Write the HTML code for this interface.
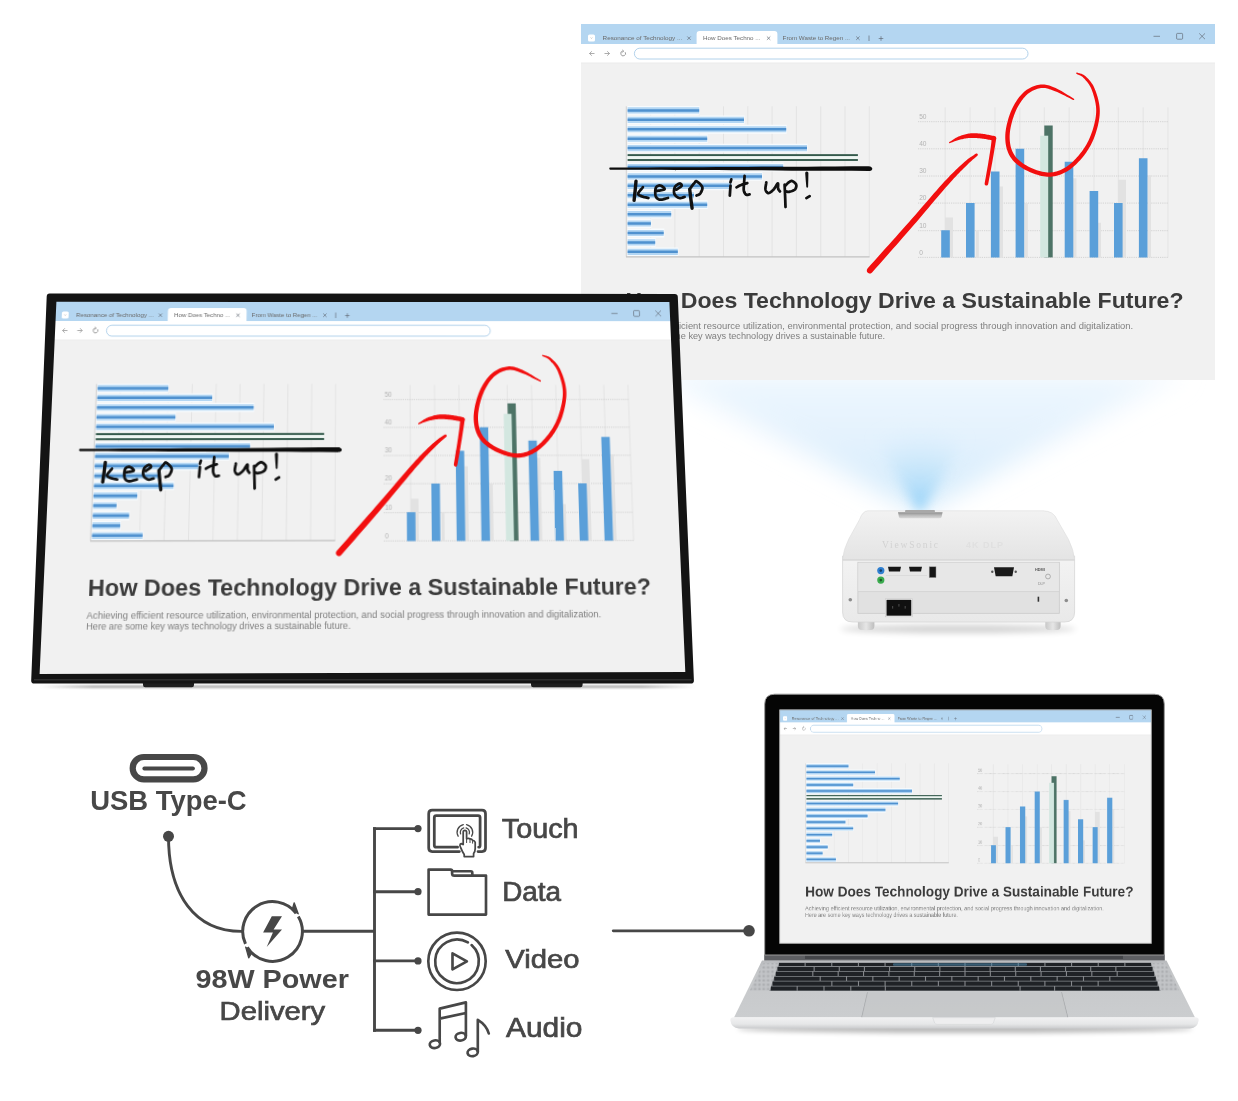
<!DOCTYPE html>
<html><head><meta charset="utf-8"><title>USB-C</title>
<style>
html,body{margin:0;padding:0;background:#fff}
body{width:1238px;height:1101px;position:relative;overflow:hidden;font-family:"Liberation Sans",sans-serif}
.abs{position:absolute;left:0;top:0}
.pg{position:absolute;left:0;top:0;width:634px;height:356px;transform-origin:0 0;overflow:hidden;will-change:transform}
.abs{will-change:transform}
.pg svg{display:block}
</style></head><body>
<svg width="0" height="0" style="position:absolute"><defs>
<g id="pg"><rect width="634" height="372" fill="#f1f1f1"/><rect width="634" height="20" fill="#b4d6f1"/><path d="M115.6,20V10Q115.6,7 118.6,7H193.4Q196.4,7 196.4,10V20Z" fill="#fff"/><rect y="20" width="634" height="19" fill="#fff"/><rect x="7" y="10.5" width="7" height="7" rx="1.6" fill="#fff"/><path d="M9.6,13.6L10.5,14.4L11.4,13.6" stroke="#999" stroke-width=".5" fill="none"/><g font-family="Liberation Sans" font-size="5.6" fill="#6a6a6a"><text x="21.6" y="16.2" textLength="79.6" lengthAdjust="spacingAndGlyphs">Resonance of Technology ...</text><text x="122" y="16.2" textLength="57.5" lengthAdjust="spacingAndGlyphs">How Does Techno ...</text><text x="201.6" y="16.2" textLength="67.5" lengthAdjust="spacingAndGlyphs">From Waste to Regen ...</text></g><path d="M106.3,12.5L109.7,15.899999999999999M109.7,12.5L106.3,15.899999999999999M185.9,12.5L189.29999999999998,15.899999999999999M189.29999999999998,12.5L185.9,15.899999999999999M275.2,12.5L278.59999999999997,15.899999999999999M278.59999999999997,12.5L275.2,15.899999999999999M288,11.5V17M300,12.2V16.8M297.7,14.5H302.3M572.5,12.3H579M618.2,9.4L624,15.2M624,9.4L618.2,15.2" stroke="#5d6570" stroke-width=".65" fill="none"/><rect x="595.6" y="9.4" width="6" height="5.8" rx=".8" stroke="#5d6570" stroke-width=".65" fill="none"/><path d="M13.5,29.5H8.6M10.8,27.3L8.5,29.5L10.8,31.7M23.5,29.5H28.4M26.2,27.3L28.5,29.5L26.2,31.7" stroke="#8a8a8a" stroke-width=".7" fill="none"/><path d="M44.2,28.2A2.4,2.4 0 1 1 41.8,27.1" stroke="#777" stroke-width=".7" fill="none"/><path d="M41.2,25.9L42.9,27.1L41.3,28.4" stroke="#777" stroke-width=".6" fill="none"/><rect x="53.4" y="24.2" width="393.6" height="10.8" rx="5.4" fill="#fff" stroke="#9fc7e6" stroke-width=".8"/><rect y="38.6" width="634" height=".6" fill="#e6e6e6"/><path d="M69.6,82.3V232.7M93.9,82.3V232.7M118.2,82.3V232.7M142.5,82.3V232.7M166.8,82.3V232.7M191.1,82.3V232.7M215.4,82.3V232.7M239.7,82.3V232.7M264,82.3V232.7M288.3,82.3V232.7" stroke="#dadada" stroke-width=".6"/><path d="M46.6,82h72.2v8.8h-72.2zM46.6,91.43h117v8.8h-117zM46.6,100.86h159.2v8.8h-159.2zM46.6,110.29h80.2v8.8h-80.2zM46.6,119.72h180v8.8h-180zM46.6,138.58h156.2v8.8h-156.2zM46.6,148.01h135v8.8h-135zM46.6,157.44h104.5v8.8h-104.5zM46.6,166.87h67v8.8h-67zM46.6,176.3h80.2v8.8h-80.2zM46.6,185.73h44.2v8.8h-44.2zM46.6,195.16h23.9v8.8h-23.9zM46.6,204.59h36.7v8.8h-36.7zM46.6,214.02h28.2v8.8h-28.2zM46.6,223.45h50.8v8.8h-50.8z" fill="#f7fbfe"/><path d="M46.6,83.35h71.6v6.1h-71.6zM46.6,92.78h116.4v6.1h-116.4zM46.6,102.21h158.6v6.1h-158.6zM46.6,111.64h79.6v6.1h-79.6zM46.6,121.07h179.4v6.1h-179.4zM46.6,139.93h155.6v6.1h-155.6zM46.6,149.36h134.4v6.1h-134.4zM46.6,158.79h103.9v6.1h-103.9zM46.6,168.22h66.4v6.1h-66.4zM46.6,177.65h79.6v6.1h-79.6zM46.6,187.08h43.6v6.1h-43.6zM46.6,196.51h23.3v6.1h-23.3zM46.6,205.94h36.1v6.1h-36.1zM46.6,215.37h27.6v6.1h-27.6zM46.6,224.8h50.2v6.1h-50.2z" fill="#b3d6f3"/><path d="M46.6,85.15h71.6v2.5h-71.6zM46.6,94.58h116.4v2.5h-116.4zM46.6,104.01h158.6v2.5h-158.6zM46.6,113.44h79.6v2.5h-79.6zM46.6,122.87h179.4v2.5h-179.4zM46.6,141.73h155.6v2.5h-155.6zM46.6,151.16h134.4v2.5h-134.4zM46.6,160.59h103.9v2.5h-103.9zM46.6,170.02h66.4v2.5h-66.4zM46.6,179.45h79.6v2.5h-79.6zM46.6,188.88h43.6v2.5h-43.6zM46.6,198.31h23.3v2.5h-23.3zM46.6,207.74h36.1v2.5h-36.1zM46.6,217.17h27.6v2.5h-27.6zM46.6,226.6h50.2v2.5h-50.2z" fill="#4f91cf"/><rect x="46.6" y="130.55" width="230.3" height="6" fill="#eef6f2"/><rect x="46.6" y="130.15" width="230.3" height="1.9" fill="#34594b"/><rect x="46.6" y="135.05" width="230.3" height="1.9" fill="#34594b"/><path d="M45.3,82.3V232.7" stroke="#cfcfcf" stroke-width=".9"/><path d="M45,232.8H288.6" stroke="#c2c2c2" stroke-width="1.3"/><path d="M364.2,83.4V233.4M389.1,83.4V233.4M414,83.4V233.4M438.9,83.4V233.4M463.3,83.4V233.4M488.2,83.4V233.4M513,83.4V233.4M537.3,83.4V233.4M562.2,83.4V233.4M587,83.4V233.4" stroke="#dcdcdc" stroke-width=".6"/><path d="M337,97.7H587M337,124.8H587M337,152H587M337,179.1H587M337,206.7H587M337,233.4H587" stroke="#cbcbcb" stroke-width=".8" stroke-dasharray="1.2 1"/><g font-family="Liberation Sans" font-size="6.6" fill="#b3b3b3"><text x="338.2" y="94.8">50</text><text x="338.2" y="121.9">40</text><text x="338.2" y="149.1">30</text><text x="338.2" y="176.2">20</text><text x="338.2" y="204.0">10</text><text x="338.2" y="231.2">0</text></g><path d="M364,193.6h8V233.4h-8zM394.8,206.7h3V233.4h-3zM418.5,162.6h3.5V233.4h-3.5zM443.4,179.1h3.4V233.4h-3.4zM492,154.2h3.4V233.4h-3.4zM517,198.8h3V233.4h-3zM537,155.8h8V233.4h-8zM566.7,151.3h3.3V233.4h-3.3z" fill="#e2e2e2"/><path d="M360.2,206.3h8.6V233.4h-8.6zM385,179.1h8.6V233.4h-8.6zM409.9,147.5h8.6V233.4h-8.6zM434.6,124.8h8.6V233.4h-8.6zM483.7,137.7h8.6V233.4h-8.6zM508.6,167.1h8.6V233.4h-8.6zM533,179.1h8.6V233.4h-8.6zM557.9,134.3h8.6V233.4h-8.6z" fill="#5a9fd9"/><rect x="463.3" y="101.5" width="8.4" height="131.9" fill="#4d7366"/><rect x="459.2" y="111.7" width="8" height="121.7" fill="#d3e7e0"/><text x="44.6" y="283.9" font-family="Liberation Sans" font-weight="bold" font-size="21.9" fill="#3b3b3b" textLength="558" lengthAdjust="spacingAndGlyphs">How Does Technology Drive a Sustainable Future?</text><g font-family="Liberation Sans" font-size="8.2" fill="#7e7e7e"><text x="44.2" y="305.4" textLength="508" lengthAdjust="spacingAndGlyphs">Achieving efficient resource utilization, environmental protection, and social progress through innovation and digitalization.</text><text x="44.2" y="315.1" textLength="260" lengthAdjust="spacingAndGlyphs">Here are some key ways technology drives a sustainable future.</text></g></g>
<g id="ann"><path d="M29.2,143.5C100,143.2 200,142.6 287.5,142.3C290.8,142.3 291.6,144.6 291.2,145.2C290.8,146.8 289,147 287.5,147C200,146.6 100,146 29.2,145.7C28,145.6 28,143.6 29.2,143.5Z" fill="#0d0d0d"/><path d="M61.90,163.20L61.25,164.02L60.53,164.88L59.76,165.76L59.02,166.62L58.34,167.46L57.78,168.25L57.38,168.97L57.20,169.60L57.25,170.13L57.49,170.58L57.89,170.97L58.41,171.30L59.01,171.60L59.67,171.87L60.34,172.13L61.00,172.40L61.68,172.66L62.42,172.88L63.21,173.09L64.04,173.28L64.89,173.45L65.74,173.63L66.58,173.81L67.40,174.00M76.20,166.90L77.21,166.70L78.33,166.52L79.49,166.35L80.64,166.18L81.69,165.98L82.58,165.77L83.24,165.51L83.60,165.20L83.61,164.79L83.33,164.27L82.81,163.69L82.14,163.09L81.37,162.53L80.58,162.04L79.83,161.68L79.20,161.50L78.62,161.47L78.00,161.53L77.36,161.69L76.73,161.94L76.13,162.29L75.59,162.73L75.14,163.27L74.80,163.90L74.56,164.71L74.39,165.72L74.28,166.87L74.25,168.09L74.28,169.33L74.39,170.50L74.56,171.54L74.80,172.40L75.12,173.10L75.51,173.71L75.98,174.24L76.51,174.69L77.11,175.06L77.76,175.35L78.46,175.56L79.20,175.70L80.01,175.73L80.91,175.63L81.88,175.43L82.89,175.16L83.93,174.86L84.97,174.54L86.00,174.25L87.00,174.00M95.50,165.60L96.19,165.11L96.94,164.61L97.73,164.11L98.50,163.61L99.21,163.12L99.83,162.64L100.31,162.20L100.60,161.80L100.70,161.40L100.64,160.98L100.45,160.56L100.16,160.18L99.79,159.86L99.38,159.62L98.94,159.49L98.50,159.50L98.01,159.65L97.41,159.93L96.74,160.31L96.04,160.78L95.36,161.32L94.73,161.92L94.20,162.55L93.80,163.20L93.51,163.92L93.28,164.75L93.11,165.65L93.01,166.58L92.98,167.52L93.03,168.42L93.17,169.26L93.40,170.00L93.75,170.67L94.22,171.31L94.79,171.92L95.44,172.49L96.13,172.99L96.84,173.42L97.54,173.76L98.20,174.00L98.85,174.11L99.51,174.10L100.18,173.99L100.86,173.81L101.55,173.59L102.24,173.37L102.92,173.16L103.60,173.00M109.50,164.00L110.01,163.32L110.54,162.61L111.07,161.88L111.61,161.16L112.12,160.47L112.62,159.83L113.08,159.27L113.50,158.80L113.85,158.39L114.12,158.01L114.35,157.68L114.56,157.41L114.78,157.23L115.04,157.15L115.37,157.20L115.80,157.40L116.39,157.78L117.13,158.33L117.96,159.02L118.83,159.81L119.65,160.66L120.38,161.54L120.95,162.40L121.30,163.20L121.41,164.00L121.35,164.86L121.14,165.75L120.83,166.64L120.44,167.50L120.02,168.30L119.59,169.01L119.20,169.60L118.81,170.05L118.39,170.39L117.93,170.64L117.45,170.83L116.96,170.99L116.46,171.13L115.97,171.29L115.50,171.50M150.30,155.40L150.19,155.78L150.08,156.15L149.96,156.53L149.85,156.90L149.74,157.28L149.63,157.65L149.51,158.03L149.40,158.40M149.50,161.70L149.41,162.94L149.32,164.17L149.24,165.41L149.15,166.65L149.06,167.89L148.98,169.12L148.89,170.36L148.80,171.60M163.60,151.80L163.54,152.70L163.47,153.60L163.40,154.49L163.34,155.39L163.27,156.29L163.21,157.19L163.15,158.09L163.10,159.00L163.04,159.94L162.95,160.91L162.86,161.90L162.78,162.88L162.71,163.84L162.69,164.76L162.71,165.62L162.80,166.40L162.95,167.12L163.16,167.80L163.42,168.44L163.71,169.03L164.04,169.56L164.38,170.02L164.74,170.40L165.10,170.70L165.48,170.88L165.89,170.95L166.32,170.92L166.78,170.84L167.23,170.71L167.70,170.58L168.15,170.47L168.60,170.40M155.50,163.40L155.98,163.12L156.43,162.85L156.88,162.57L157.33,162.29L157.79,162.02L158.30,161.74L158.87,161.47L159.50,161.20L160.22,160.93L161.00,160.67L161.84,160.41L162.72,160.14L163.63,159.88L164.53,159.62L165.43,159.36L166.30,159.10M185.30,158.40L185.17,159.31L185.01,160.26L184.84,161.22L184.67,162.17L184.53,163.09L184.44,163.97L184.42,164.78L184.50,165.50L184.67,166.17L184.91,166.81L185.22,167.42L185.58,167.97L185.98,168.43L186.43,168.79L186.90,169.02L187.40,169.10L187.95,169.01L188.56,168.76L189.23,168.39L189.92,167.91L190.62,167.35L191.32,166.74L191.98,166.12L192.60,165.50L193.20,164.78L193.81,163.89L194.42,162.90L195.01,161.90L195.55,160.97L196.05,160.19L196.47,159.64L196.80,159.40L197.01,159.53L197.11,159.96L197.13,160.62L197.09,161.44L197.04,162.32L197.00,163.20L197.01,163.98L197.10,164.60L197.26,165.07L197.46,165.49L197.70,165.86L197.95,166.19L198.22,166.51L198.49,166.83L198.75,167.15L199.00,167.50M203.60,160.70L203.66,162.11L203.73,163.53L203.79,164.95L203.86,166.37L203.92,167.78L203.98,169.20L204.04,170.60L204.10,172.00L204.15,173.39L204.21,174.77L204.26,176.15L204.31,177.52L204.35,178.89L204.40,180.26L204.45,181.63L204.50,183.00M204.00,162.00L204.52,161.49L205.05,160.96L205.58,160.41L206.11,159.87L206.63,159.35L207.14,158.87L207.63,158.45L208.10,158.10L208.54,157.80L208.95,157.54L209.34,157.31L209.71,157.13L210.09,157.01L210.47,156.96L210.87,156.99L211.30,157.10L211.79,157.32L212.35,157.65L212.94,158.06L213.53,158.54L214.09,159.06L214.57,159.61L214.96,160.16L215.20,160.70L215.32,161.26L215.35,161.87L215.29,162.52L215.16,163.18L214.95,163.83L214.66,164.45L214.31,165.01L213.90,165.50L213.37,165.92L212.69,166.31L211.91,166.66L211.08,166.97L210.24,167.24L209.43,167.47L208.70,167.65L208.10,167.80L207.62,167.89L207.22,167.91L206.89,167.88L206.60,167.81L206.33,167.73L206.07,167.64L205.80,167.56L205.50,167.50M225.40,174.10L225.81,173.85L226.22,173.60L226.64,173.35L227.05,173.10L227.46,172.85L227.88,172.60L228.29,172.35L228.70,172.10" stroke="#111" stroke-width="2.75" fill="none" stroke-linecap="round" stroke-linejoin="round"/><path d="M55.00,157.10L54.90,158.20L54.81,159.29L54.71,160.37L54.62,161.46L54.52,162.55L54.42,163.67L54.31,164.82L54.20,166.00L54.08,167.23L53.95,168.49L53.81,169.79L53.67,171.11L53.53,172.43L53.38,173.76L53.24,175.09L53.10,176.40M108.70,165.20L108.84,166.36L108.97,167.52L109.10,168.67L109.24,169.82L109.37,170.98L109.51,172.15L109.65,173.32L109.80,174.50L109.95,175.69L110.11,176.90L110.27,178.11L110.44,179.32L110.60,180.54L110.77,181.77L110.94,182.98L111.10,184.20" stroke="#111" stroke-width="3.4" fill="none" stroke-linecap="round" stroke-linejoin="round"/><path d="M224.20,149.15L224.24,149.72L224.28,150.30L224.33,150.87L224.37,151.45L224.41,152.02L224.45,152.60L224.49,153.17L224.53,153.75L224.58,154.32L224.62,154.90L224.66,155.47L224.70,156.04L224.75,156.61L224.80,157.18L224.85,157.74L224.90,158.31L224.95,158.87L225.00,159.44L225.05,160.00L225.10,160.57L225.15,161.13L225.20,161.70L225.25,162.26L225.30,162.83L225.43,163.27L225.77,163.59L226.23,163.70L226.67,163.57L226.99,163.23L227.10,162.77L227.12,162.21L227.13,161.64L227.15,161.07L227.17,160.51L227.18,159.94L227.20,159.37L227.22,158.81L227.23,158.24L227.25,157.67L227.27,157.10L227.28,156.53L227.30,155.96L227.31,155.39L227.32,154.82L227.32,154.24L227.33,153.67L227.34,153.09L227.35,152.51L227.36,151.94L227.37,151.36L227.37,150.78L227.38,150.21L227.39,149.63L227.40,149.05L227.16,148.26L226.56,147.69L225.75,147.50L224.96,147.74L224.39,148.34Z" fill="#111"/><path d="M291.08,248.52L294.52,244.62L297.99,240.68L301.48,236.72L304.98,232.75L308.48,228.78L311.97,224.82L315.45,220.88L318.88,216.97L322.28,213.10L325.62,209.28L328.90,205.53L332.11,201.84L335.27,198.17L338.44,194.46L341.60,190.75L344.72,187.05L347.80,183.40L350.82,179.82L353.77,176.33L356.62,172.96L359.37,169.73L361.99,166.66L364.48,163.79L366.82,161.14L369.00,158.70L371.05,156.43L372.97,154.34L374.78,152.40L376.49,150.59L378.10,148.92L379.63,147.35L381.09,145.88L382.48,144.49L383.82,143.17L385.11,141.89L386.36,140.66L387.52,139.52L388.54,138.54L389.47,137.67L390.32,136.91L391.10,136.23L391.84,135.60L392.56,135.01L393.27,134.43L393.99,133.84L394.73,133.23L395.51,132.57L396.33,131.86L396.75,131.30L396.84,130.61L396.56,129.97L396.00,129.55L395.31,129.46L394.67,129.74L393.80,130.35L392.99,130.89L392.21,131.40L391.44,131.89L390.65,132.39L389.84,132.91L388.99,133.49L388.09,134.13L387.11,134.85L386.06,135.69L384.90,136.64L383.64,137.74L382.32,138.93L380.96,140.16L379.56,141.44L378.10,142.79L376.57,144.23L374.96,145.77L373.27,147.42L371.48,149.20L369.58,151.11L367.58,153.19L365.45,155.43L363.18,157.86L360.77,160.50L358.22,163.36L355.53,166.40L352.73,169.61L349.82,172.95L346.83,176.41L343.76,179.95L340.64,183.56L337.48,187.21L334.29,190.88L331.09,194.53L327.89,198.16L324.67,201.80L321.36,205.52L317.99,209.31L314.57,213.14L311.10,217.02L307.60,220.93L304.08,224.86L300.55,228.81L297.01,232.75L293.49,236.68L289.99,240.60L286.52,244.48L285.81,245.89L285.91,247.46L286.78,248.78L288.19,249.49L289.76,249.39Z" fill="#f20f0f"/><path d="M368.86,119.14L369.68,118.85L370.50,118.54L371.31,118.23L372.12,117.92L372.92,117.61L373.72,117.31L374.51,117.01L375.31,116.73L376.11,116.47L376.92,116.23L377.73,116.01L378.55,115.81L379.40,115.58L380.26,115.36L381.14,115.15L382.02,114.95L382.91,114.76L383.80,114.59L384.70,114.44L385.60,114.30L386.50,114.19L387.40,114.10L388.30,114.03L389.20,113.99L390.09,113.94L391.01,113.91L391.94,113.90L392.88,113.92L393.84,113.95L394.81,114.01L395.79,114.08L396.77,114.16L397.76,114.26L398.75,114.36L399.75,114.47L400.73,114.58L401.69,114.69L402.65,114.82L403.62,114.96L404.59,115.11L405.57,115.28L406.56,115.46L407.55,115.64L408.55,115.83L409.55,116.02L410.56,116.21L411.58,116.39L412.59,116.56L413.78,116.46L414.76,115.78L415.26,114.71L415.16,113.52L414.48,112.54L413.41,112.04L412.42,111.85L411.44,111.66L410.45,111.46L409.45,111.25L408.45,111.05L407.44,110.84L406.43,110.64L405.41,110.45L404.38,110.27L403.35,110.10L402.31,109.95L401.27,109.82L400.25,109.71L399.22,109.62L398.19,109.53L397.16,109.44L396.11,109.37L395.07,109.32L394.02,109.27L392.97,109.25L391.92,109.25L390.88,109.28L389.84,109.33L388.80,109.41L387.78,109.56L386.78,109.74L385.78,109.95L384.80,110.18L383.83,110.43L382.87,110.70L381.93,110.98L381.00,111.28L380.09,111.60L379.20,111.92L378.32,112.25L377.45,112.59L376.60,112.99L375.76,113.42L374.96,113.86L374.18,114.32L373.43,114.78L372.68,115.25L371.95,115.73L371.23,116.20L370.51,116.68L369.80,117.14L369.07,117.61L368.34,118.06L368.10,118.26L368.00,118.55L368.06,118.86L368.26,119.10L368.55,119.20Z" fill="#f20f0f"/><path d="M410.82,114.29L410.72,115.15L410.62,115.98L410.52,116.80L410.42,117.60L410.33,118.41L410.23,119.22L410.13,120.05L410.03,120.90L409.92,121.78L409.80,122.70L409.67,123.67L409.52,124.69L409.36,125.76L409.20,126.86L409.02,128.00L408.84,129.16L408.65,130.36L408.46,131.59L408.26,132.86L408.05,134.15L407.83,135.48L407.60,136.84L407.37,138.24L407.13,139.67L406.88,141.15L406.61,142.69L406.33,144.28L406.04,145.91L405.75,147.58L405.45,149.27L405.14,150.97L404.84,152.69L404.53,154.41L404.23,156.12L403.92,157.81L403.63,159.48L403.71,160.41L404.24,161.17L405.08,161.57L406.01,161.49L406.77,160.96L407.17,160.12L407.48,158.46L407.80,156.77L408.12,155.07L408.44,153.35L408.77,151.64L409.09,149.93L409.41,148.24L409.72,146.58L410.02,144.95L410.32,143.35L410.60,141.81L410.87,140.33L411.13,138.89L411.38,137.49L411.62,136.13L411.86,134.80L412.09,133.50L412.30,132.23L412.52,131.00L412.72,129.80L412.92,128.63L413.11,127.49L413.30,126.39L413.48,125.31L413.65,124.28L413.82,123.30L413.97,122.38L414.12,121.49L414.26,120.63L414.39,119.80L414.52,118.99L414.65,118.19L414.78,117.39L414.91,116.58L415.04,115.76L415.18,114.91L415.04,113.78L414.36,112.87L413.31,112.42L412.18,112.56L411.27,113.24Z" fill="#f20f0f"/><path d="M492.86,74.64L491.34,73.74L489.80,72.81L488.25,71.86L486.68,70.89L485.12,69.92L483.55,68.96L482.00,68.02L480.46,67.11L478.95,66.25L477.46,65.44L476.01,64.69L474.61,64.02L473.27,63.47L471.99,62.94L470.75,62.45L469.54,61.99L468.34,61.58L467.14,61.21L465.94,60.90L464.72,60.65L463.48,60.48L462.21,60.40L460.91,60.41L459.58,60.51L458.23,60.70L456.86,60.97L455.48,61.31L454.07,61.72L452.66,62.20L451.25,62.77L449.84,63.41L448.45,64.13L447.08,64.92L445.73,65.80L444.43,66.77L443.17,67.81L441.95,68.94L440.75,70.16L439.58,71.46L438.43,72.84L437.30,74.30L436.21,75.81L435.15,77.39L434.13,79.02L433.15,80.70L432.22,82.42L431.35,84.17L430.53,85.94L429.76,87.79L429.01,89.73L428.30,91.76L427.62,93.84L426.98,95.97L426.40,98.13L425.87,100.30L425.40,102.46L425.01,104.60L424.69,106.69L424.45,108.73L424.30,110.69L424.25,112.58L424.26,114.45L424.34,116.31L424.50,118.13L424.73,119.93L425.03,121.70L425.41,123.44L425.87,125.13L426.40,126.79L427.01,128.40L427.70,129.96L428.47,131.46L429.34,132.92L430.30,134.31L431.33,135.65L432.44,136.94L433.62,138.17L434.87,139.34L436.18,140.47L437.54,141.54L438.95,142.57L440.41,143.55L441.91,144.48L443.45,145.38L445.07,146.25L446.80,147.10L448.62,147.94L450.51,148.73L452.45,149.49L454.44,150.19L456.44,150.83L458.45,151.40L460.44,151.88L462.40,152.26L464.33,152.54L466.18,152.70L467.98,152.74L469.74,152.68L471.47,152.53L473.18,152.28L474.86,151.94L476.52,151.51L478.14,151.01L479.75,150.43L481.33,149.77L482.89,149.05L484.43,148.26L485.96,147.41L487.50,146.47L489.04,145.41L490.56,144.28L492.05,143.06L493.53,141.77L494.98,140.43L496.40,139.04L497.78,137.61L499.12,136.15L500.42,134.67L501.66,133.18L502.86,131.69L504.00,130.18L505.10,128.64L506.17,127.06L507.20,125.46L508.20,123.82L509.15,122.15L510.06,120.45L510.94,118.72L511.76,116.96L512.55,115.16L513.29,113.34L513.98,111.48L514.63,109.58L515.25,107.62L515.85,105.60L516.41,103.54L516.93,101.45L517.39,99.34L517.81,97.21L518.16,95.09L518.44,92.98L518.65,90.88L518.77,88.82L518.80,86.80L518.73,84.78L518.55,82.75L518.29,80.72L517.94,78.70L517.52,76.70L517.05,74.74L516.53,72.83L515.97,70.97L515.39,69.19L514.79,67.50L514.18,65.89L513.58,64.39L512.93,62.96L512.23,61.61L511.48,60.34L510.69,59.14L509.88,58.02L509.06,56.98L508.23,56.00L507.40,55.09L506.59,54.25L505.79,53.47L505.03,52.74L504.29,52.05L503.53,51.44L502.76,50.91L502.01,50.49L501.28,50.14L500.57,49.87L499.88,49.65L499.22,49.47L498.58,49.31L497.95,49.15L497.34,48.99L496.73,48.80L496.09,48.56L495.74,48.50L495.40,48.63L495.16,48.91L495.10,49.26L495.23,49.60L495.51,49.84L496.13,50.18L496.77,50.49L497.40,50.76L498.01,51.02L498.60,51.27L499.18,51.52L499.74,51.80L500.29,52.11L500.83,52.46L501.38,52.87L501.93,53.36L502.51,53.95L503.17,54.62L503.87,55.36L504.59,56.14L505.32,56.97L506.05,57.84L506.78,58.77L507.50,59.76L508.19,60.80L508.86,61.90L509.49,63.07L510.08,64.30L510.62,65.61L511.16,67.04L511.71,68.59L512.25,70.23L512.78,71.94L513.29,73.73L513.75,75.56L514.17,77.43L514.53,79.32L514.82,81.21L515.04,83.10L515.17,84.97L515.20,86.80L515.14,88.65L514.99,90.56L514.77,92.52L514.47,94.51L514.11,96.52L513.68,98.54L513.20,100.55L512.67,102.54L512.10,104.51L511.50,106.44L510.87,108.31L510.22,110.12L509.55,111.87L508.84,113.58L508.08,115.27L507.29,116.93L506.45,118.55L505.57,120.15L504.66,121.72L503.71,123.25L502.72,124.76L501.70,126.24L500.64,127.69L499.54,129.11L498.41,130.52L497.23,131.94L496.00,133.35L494.72,134.73L493.42,136.08L492.08,137.39L490.72,138.65L489.35,139.84L487.97,140.96L486.59,142.00L485.21,142.94L483.84,143.79L482.45,144.56L481.05,145.28L479.64,145.93L478.23,146.51L476.81,147.03L475.37,147.47L473.93,147.84L472.46,148.14L470.98,148.35L469.48,148.49L467.96,148.54L466.42,148.50L464.82,148.36L463.12,148.11L461.35,147.75L459.53,147.31L457.67,146.77L455.80,146.17L453.95,145.50L452.12,144.78L450.35,144.03L448.65,143.24L447.04,142.43L445.55,141.62L444.14,140.80L442.76,139.93L441.44,139.03L440.16,138.09L438.95,137.12L437.79,136.12L436.70,135.08L435.68,134.00L434.72,132.89L433.85,131.74L433.05,130.56L432.33,129.34L431.67,128.06L431.08,126.72L430.55,125.33L430.09,123.89L429.69,122.40L429.35,120.86L429.08,119.28L428.88,117.67L428.74,116.02L428.66,114.34L428.65,112.63L428.70,110.91L428.82,109.14L429.03,107.27L429.32,105.32L429.69,103.31L430.12,101.27L430.61,99.21L431.16,97.15L431.76,95.12L432.40,93.14L433.07,91.22L433.76,89.38L434.47,87.66L435.21,85.99L436.01,84.35L436.85,82.74L437.74,81.17L438.67,79.64L439.63,78.16L440.62,76.74L441.64,75.39L442.68,74.11L443.72,72.91L444.78,71.80L445.83,70.79L446.90,69.87L448.01,69.01L449.16,68.22L450.34,67.50L451.55,66.84L452.78,66.25L454.01,65.72L455.25,65.26L456.47,64.87L457.69,64.54L458.88,64.28L460.02,64.09L461.11,63.97L462.15,63.93L463.17,63.97L464.19,64.08L465.22,64.25L466.26,64.49L467.33,64.79L468.44,65.14L469.60,65.54L470.80,65.99L472.07,66.47L473.39,66.98L474.77,67.48L476.21,68.07L477.70,68.72L479.23,69.44L480.81,70.21L482.41,71.01L484.03,71.84L485.66,72.69L487.30,73.53L488.93,74.37L490.55,75.18L492.14,75.96L492.52,76.05L492.89,75.94L493.16,75.66L493.25,75.28L493.14,74.91Z" fill="#f20f0f"/></g>
</defs></svg>

<!-- projected screen -->
<div class="pg" style="transform:matrix3d(1,0,0,0,0,1,0,0,0,0,1,0,581,24,0,1)"><svg width="634" height="356"><use href="#pg"/><use href="#ann"/></svg></div>

<svg class="abs" width="1238" height="1101" style="overflow:visible">
<defs>
<filter id="bb" x="-30%" y="-30%" width="160%" height="160%"><feGaussianBlur stdDeviation="13"/></filter>
<filter id="bb2" x="-50%" y="-50%" width="200%" height="200%"><feGaussianBlur stdDeviation="6"/></filter>
<linearGradient id="fan" x1="0" y1="1" x2="0" y2="0"><stop offset="0" stop-color="#cde8fb"/><stop offset=".45" stop-color="#e2f1fd"/><stop offset="1" stop-color="#eef7fe"/></linearGradient>
<radialGradient id="core" cx="920" cy="516" r="95" gradientUnits="userSpaceOnUse"><stop offset="0" stop-color="#86cdf8"/><stop offset=".3" stop-color="#b4def9"/><stop offset="1" stop-color="#dceffc" stop-opacity="0"/></radialGradient>
<clipPath id="abovescr"><rect x="0" y="380" width="1238" height="200"/></clipPath>
</defs>
<g clip-path="url(#abovescr)">
<path d="M920,512L650,372L1185,372Z" fill="url(#fan)" filter="url(#bb)"/>
<path d="M920,514L850,400L990,400Z" fill="url(#core)" filter="url(#bb2)"/>
</g>
</svg>
<svg class="abs" width="1238" height="1101">
<defs>
<filter id="pb" x="-20%" y="-200%" width="140%" height="500%"><feGaussianBlur stdDeviation="3"/></filter>
<linearGradient id="ptop" x1="0" y1="0" x2="0" y2="1"><stop offset="0" stop-color="#f2f2f2"/><stop offset="1" stop-color="#e4e4e4"/></linearGradient>
<linearGradient id="pfront" x1="0" y1="0" x2="0" y2="1"><stop offset="0" stop-color="#f3f3f3"/><stop offset="1" stop-color="#e9e9e9"/></linearGradient>
<linearGradient id="lens" x1="0" y1="0" x2="0" y2="1"><stop offset="0" stop-color="#8c8c8c"/><stop offset=".5" stop-color="#b9b9b9"/><stop offset="1" stop-color="#d9d9d9"/></linearGradient>
<linearGradient id="foot" x1="0" y1="0" x2="1" y2="0"><stop offset="0" stop-color="#c8c8c8"/><stop offset=".5" stop-color="#e6e6e6"/><stop offset="1" stop-color="#bdbdbd"/></linearGradient>
</defs>
<ellipse cx="958" cy="629" rx="118" ry="4" fill="#000" opacity=".18" filter="url(#pb)"/>
<rect x="857.9" y="614" width="16.5" height="16" rx="4" fill="url(#foot)"/>
<rect x="1045.3" y="614" width="15.3" height="16" rx="4" fill="url(#foot)"/>
<path d="M842.6,556H1074.6V612Q1074.6,622 1064.6,622H852.6Q842.6,622 842.6,612Z" fill="url(#pfront)" stroke="#d6d6d6" stroke-width=".8"/>
<path d="M868,510.8H1043Q1053.5,511 1057,519.5L1068.5,539.5Q1073.8,550 1074.6,560H842.6Q843.2,550 848.8,539L859.6,519.5Q862.5,511 868,510.8Z" fill="url(#ptop)" stroke="#dcdcdc" stroke-width=".6"/>
<path d="M842.6,560H1074.6" stroke="#d2d2d2" stroke-width="1"/>
<path d="M898,512.2H942.6L941.5,517.3Q941,518.3 939.5,518.3H901Q899.5,518.3 899,517.3Z" fill="url(#lens)"/>
<rect x="905" y="510" width="30" height="2.2" rx="1" fill="#a8a8a8"/>
<text x="882" y="547.5" font-family="Liberation Serif" font-size="9.5" fill="#d2d2d2" letter-spacing="1.8">ViewSonic</text>
<text x="966" y="547.5" font-family="Liberation Sans" font-size="9" font-weight="bold" fill="#e0e0e0" letter-spacing="1">4K DLP</text>
<rect x="857.9" y="562.3" width="201.4" height="51" fill="#e1e1e1" stroke="#c9c9c9" stroke-width=".8"/>
<rect x="858.3" y="562.7" width="200.6" height="28.9" fill="#e7e7e7"/>
<path d="M858,591.6H1059.3" stroke="#cfcfcf" stroke-width=".8"/>
<circle cx="880.8" cy="570.6" r="3.6" fill="#2f7fd1"/><circle cx="880.8" cy="570.6" r="1.3" fill="#15406a"/>
<circle cx="880.8" cy="580.1" r="3.6" fill="#3aab4e"/><circle cx="880.8" cy="580.1" r="1.3" fill="#1c5a27"/>
<path d="M888,566.8H901L900,571.6H889Z" fill="#161616"/>
<path d="M909,566.8H922L921,571.6H910Z" fill="#161616"/>
<rect x="929.2" y="566.8" width="6.8" height="10.8" fill="#161616" stroke="#999" stroke-width=".5"/>
<path d="M886,575.5H927" stroke="#cfcfcf" stroke-width=".5"/>
<path d="M994,567.3H1014L1012.3,576.3H995.7Z" fill="#1a1a1a"/>
<circle cx="992.3" cy="571.8" r="1.2" fill="#555"/><circle cx="1015.7" cy="571.8" r="1.2" fill="#555"/>
<text x="1035" y="570.5" font-family="Liberation Sans" font-size="3.8" font-weight="bold" fill="#555">HDMI</text>
<circle cx="1048" cy="576.5" r="2.4" fill="none" stroke="#888" stroke-width=".6"/>
<text x="1038" y="584.8" font-family="Liberation Sans" font-size="3.5" fill="#888">DLP</text>
<rect x="885.4" y="598.8" width="27" height="18" fill="#fafafa" stroke="#c5c5c5" stroke-width=".6"/>
<rect x="886.5" y="599.8" width="24.8" height="15.9" fill="#101010"/>
<rect x="892" y="606" width="1.2" height="2.6" fill="#444"/><rect x="898.3" y="604" width="1.2" height="2.6" fill="#444"/><rect x="904.6" y="606" width="1.2" height="2.6" fill="#444"/>
<rect x="1037.6" y="596.7" width="1.6" height="5" fill="#333"/>
<circle cx="850.3" cy="599.8" r="1.8" fill="#8d8d8d"/><circle cx="1066.3" cy="600.5" r="1.8" fill="#8d8d8d"/>
</svg>
<svg class="abs" width="1238" height="1101">
<defs>
<linearGradient id="msh" x1="0" y1="0" x2="1" y2="0"><stop offset="0" stop-color="#888" stop-opacity="0"/><stop offset=".08" stop-color="#888" stop-opacity=".8"/><stop offset=".92" stop-color="#888" stop-opacity=".8"/><stop offset="1" stop-color="#888" stop-opacity="0"/></linearGradient>
<filter id="mb" x="-5%" y="-300%" width="110%" height="700%"><feGaussianBlur stdDeviation=".8"/></filter>
</defs>
<rect x="40" y="685.6" width="655" height="2.2" fill="url(#msh)" filter="url(#mb)"/>
<rect x="143" y="681" width="51" height="6.2" rx="2.2" fill="#1e1e1e"/>
<rect x="531" y="681" width="51.6" height="6.2" rx="2.2" fill="#1e1e1e"/>
</svg>
<div class="pg" style="transform:matrix3d(0.97619802,0.0035290689,0,1.0142326e-05,-0.05273016,0.95393113,0,-0.00014276156,0,0,1,0,55.6,301,0,1)"><svg width="634" height="356"><use href="#pg"/><use href="#ann" transform="matrix(1.006,0,0,0.965,1.8,6.8)"/></svg></div>
<svg class="abs" width="1238" height="1101">
<path fill-rule="evenodd" d="M49.6,293.4L674.8,293.9Q677.6,293.9 677.8,296.7L693.9,680.6Q694,683.6 690.9,683.6H34.2Q31.1,683.6 31.2,680.6L46.7,296.4Q46.8,293.4 49.6,293.4ZM56.4,301.8L669.4,302.1L685.3,671.9L39.6,674.1Z" fill="#141414"/>
<path d="M34,679.8H691.5" stroke="#2f2f2f" stroke-width="1.6"/>
</svg>
<svg class="abs" width="1238" height="1101">
<defs>
<filter id="lb" x="-10%" y="-300%" width="120%" height="700%"><feGaussianBlur stdDeviation="2.5"/></filter>
<linearGradient id="deck" x1="0" y1="0" x2="0" y2="1"><stop offset="0" stop-color="#b9bbbe"/><stop offset=".25" stop-color="#c6c8ca"/><stop offset="1" stop-color="#cbcdcf"/></linearGradient>
<linearGradient id="front" x1="0" y1="0" x2="0" y2="1"><stop offset="0" stop-color="#f2f2f3"/><stop offset=".6" stop-color="#e6e7e8"/><stop offset="1" stop-color="#c9cacc"/></linearGradient>
<pattern id="grill" width="1.3" height="1.3" patternUnits="userSpaceOnUse"><rect width="1.3" height="1.3" fill="#c2c4c7"/><rect width=".6" height=".6" fill="#a3a5a9"/></pattern>
</defs>
<ellipse cx="965" cy="1029" rx="228" ry="4" fill="#000" opacity=".28" filter="url(#lb)"/>
<rect x="764.2" y="954.5" width="400.6" height="6.3" fill="#5e5f63"/>
<rect x="805" y="955.6" width="318" height="3.4" fill="#444549"/>
<path d="M762,960.5H1166.5L1195,1017.5H734Z" fill="url(#deck)"/>
<path d="M733.5,1017.2H1195.5Q1199,1017.2 1198.6,1020.5Q1197.8,1027.8 1190,1028.6H739Q731.2,1027.8 730.4,1020.5Q730,1017.2 733.5,1017.2Z" fill="url(#front)"/>
<path d="M932.6,1017.6H995.3L993.2,1023.2Q992.4,1024.4 990.4,1024.4H937.5Q935.5,1024.4 934.7,1023.2Z" fill="#eeeeef" stroke="#cfd0d2" stroke-width=".5"/>
<path d="M763.6,963H778.6L769.4,990.5H749.8Z" fill="url(#grill)"/>
<path d="M1151.4,963H1165.4L1179.2,990.5H1160.6Z" fill="url(#grill)"/>
<path d="M779,962.5H1151L1160.6,991H769.4Z" fill="#85888c"/>
<path d="M867.6,992.3L861.8,1017.2M1061.5,992.3L1067.7,1017.2" stroke="#9b9da0" stroke-width=".8"/>
<path d="M779.03,962.9H804.57V966.1H779.03ZM805.67,962.9H831.22V966.1H805.67ZM832.32,962.9H857.87V966.1H832.32ZM858.97,962.9H884.51V966.1H858.97ZM885.61,962.9H911.16V966.1H885.61ZM912.26,962.9H937.80V966.1H912.26ZM938.90,962.9H964.45V966.1H938.90ZM965.55,962.9H991.10V966.1H965.55ZM992.20,962.9H1017.74V966.1H992.20ZM1018.84,962.9H1044.39V966.1H1018.84ZM1045.49,962.9H1071.03V966.1H1045.49ZM1072.13,962.9H1097.68V966.1H1072.13ZM1098.78,962.9H1124.33V966.1H1098.78ZM1125.43,962.9H1150.97V966.1H1125.43ZM777.53,966.9H813.59V971.0H777.53ZM814.69,966.9H838.73V971.0H814.69ZM839.83,966.9H863.88V971.0H839.83ZM864.98,966.9H889.02V971.0H864.98ZM890.12,966.9H914.16V971.0H890.12ZM915.26,966.9H939.31V971.0H915.26ZM940.41,966.9H964.45V971.0H940.41ZM965.55,966.9H989.59V971.0H965.55ZM990.69,966.9H1014.74V971.0H990.69ZM1015.84,966.9H1039.88V971.0H1015.84ZM1040.98,966.9H1065.02V971.0H1040.98ZM1066.12,966.9H1090.17V971.0H1066.12ZM1091.27,966.9H1115.31V971.0H1091.27ZM1116.41,966.9H1152.47V971.0H1116.41ZM775.88,971.8H812.27V975.9H775.88ZM813.37,971.8H837.63V975.9H813.37ZM838.73,971.8H863.00V975.9H838.73ZM864.10,971.8H888.36V975.9H864.10ZM889.46,971.8H913.72V975.9H889.46ZM914.82,971.8H939.09V975.9H914.82ZM940.19,971.8H964.45V975.9H940.19ZM965.55,971.8H989.81V975.9H965.55ZM990.91,971.8H1015.18V975.9H990.91ZM1016.28,971.8H1040.54V975.9H1016.28ZM1041.64,971.8H1065.90V975.9H1041.64ZM1067.00,971.8H1091.27V975.9H1067.00ZM1092.37,971.8H1116.63V975.9H1092.37ZM1117.73,971.8H1154.12V975.9H1117.73ZM774.23,976.7H819.64V980.8H774.23ZM820.74,976.7H845.97V980.8H820.74ZM847.07,976.7H872.30V980.8H847.07ZM873.40,976.7H898.63V980.8H873.40ZM899.73,976.7H924.96V980.8H899.73ZM926.06,976.7H951.29V980.8H926.06ZM952.39,976.7H977.61V980.8H952.39ZM978.71,976.7H1003.94V980.8H978.71ZM1005.04,976.7H1030.27V980.8H1005.04ZM1031.37,976.7H1056.60V980.8H1031.37ZM1057.70,976.7H1082.93V980.8H1057.70ZM1084.03,976.7H1109.26V980.8H1084.03ZM1110.36,976.7H1155.77V980.8H1110.36ZM772.58,981.6H831.30V985.7H772.58ZM832.40,981.6H857.93V985.7H832.40ZM859.03,981.6H884.56V985.7H859.03ZM885.66,981.6H911.19V985.7H885.66ZM912.29,981.6H937.82V985.7H912.29ZM938.92,981.6H964.45V985.7H938.92ZM965.55,981.6H991.08V985.7H965.55ZM992.18,981.6H1017.71V985.7H992.18ZM1018.81,981.6H1044.34V985.7H1018.81ZM1045.44,981.6H1070.97V985.7H1045.44ZM1072.07,981.6H1097.60V985.7H1072.07ZM1098.70,981.6H1157.42V985.7H1098.70ZM770.93,986.5H796.63V990.6H770.93ZM797.73,986.5H823.44V990.6H797.73ZM824.54,986.5H850.24V990.6H824.54ZM851.34,986.5H884.76V990.6H851.34ZM885.86,986.5H1019.53V990.6H885.86ZM1020.63,986.5H1054.05V990.6H1020.63ZM1055.15,986.5H1080.86V990.6H1055.15ZM1081.96,986.5H1159.07V990.6H1081.96Z" fill="#1f2226"/><rect x="893" y="963.2" width="134" height="2.6" rx="1" fill="#4a86a8" opacity=".6"/><path d="M867.6,992.3H1061.5L1067.7,1017.2H861.8Z" fill="#c4c6c8" opacity=".6"/></svg>
<div class="pg" style="transform:matrix3d(0.58832808,0,0,0,0,0.65955056,0,0,0,0,1,0,779,709.2,0,1)"><svg width="634" height="356"><use href="#pg"/></svg></div>
<svg class="abs" width="1238" height="1101"><path fill-rule="evenodd" d="M764.7,704.2Q764.7,694.2 774.7,694.2H1154.3Q1164.3,694.2 1164.3,704.2V955H764.7ZM779.6,709.8V943.4H1151.4V709.8Z" fill="#050505" stroke="#9a9a9a" stroke-width="1"/></svg>
<svg class="abs" width="1238" height="1101"><g fill="none" stroke="#474747" stroke-linecap="round" stroke-linejoin="round"><rect x="132.7" y="757" width="71.8" height="22.4" rx="11.2" stroke-width="6.2"/><path d="M144.4,768.4H192.9" stroke-width="4"/><path d="M168.5,836.3C168.5,895 195,931.4 241.5,931.4" stroke-width="2.9"/><path d="M245.49,943.99A29.8,29.8 0 0 1 296.14,913.26" stroke-width="3" stroke-linecap="butt"/><path d="M298.31,916.50A29.8,29.8 0 0 1 247.28,947.28" stroke-width="3" stroke-linecap="butt"/></g><path d="M294.2,902.8L298.2,913.8L292.1,909.9ZM245.7,947.1L248.7,957.9L251.4,953.5Z" fill="#474747" stroke="#474747" stroke-width="1.3" stroke-linejoin="round"/><path d="M271.8,916.3H282L273.6,929.6H282L266.7,947.1L272.9,932.5H263.1Z" fill="#474747"/><g fill="none" stroke="#474747" stroke-width="2.9" stroke-linecap="butt"><path d="M302.3,931.2H374.5"/><path d="M374.5,827.2V1031.8"/><path d="M373,828.6H418M373,891.7H418M373,960.9H418M373,1030.3H418"/><path d="M613.2,930.8H749" stroke-width="2.7" stroke-linecap="round"/></g><g fill="#474747"><circle cx="168.5" cy="836.3" r="5.5"/><circle cx="418" cy="828.6" r="3.6"/><circle cx="418" cy="891.7" r="3.6"/><circle cx="418" cy="960.9" r="3.6"/><circle cx="418" cy="1030.3" r="3.6"/><circle cx="749" cy="930.8" r="5.8"/></g><g fill="none" stroke="#474747" stroke-width="2.75" stroke-linecap="round" stroke-linejoin="round"><path d="M459.4,851.6H432.2Q428.7,851.6 428.7,848.1V813.7Q428.7,810.2 432.2,810.2H482Q485.5,810.2 485.5,813.7V848.1Q485.5,851.6 482,851.6H478"/><path d="M457.6,847.2H436.3Q434.3,847.2 434.3,845.2V817.5Q434.3,815.5 436.3,815.5H478.1Q480.1,815.5 480.1,817.5V845.2Q480.1,847.2 478.7,847.2"/></g><path d="M463.2,844.5V832.2Q463.2,830.3 464.9,830.3Q466.6,830.3 466.6,832.2V838.8Q468.5,837.8 470,838.9Q471.8,838.8 472.6,840.4Q474.5,840.5 475.2,842.3V848.5Q475.2,851.5 473.6,853.5V856.6H464.2V854.5Q462,851 460.7,847.6Q459.4,845.3 460.2,844.2Q461.4,843.2 463.2,844.5Z" fill="#fff" stroke="#474747" stroke-width="1.75" stroke-linejoin="round"/><path d="M466.6,838.8V842.6M470,838.9V842.6M472.6,840.4V843.2" stroke="#474747" stroke-width="1" fill="none" stroke-linecap="round"/><g fill="none" stroke="#474747" stroke-width="1.3" stroke-linecap="round"><path d="M460.58,833.87A4.6,4.6 0 0 1 463.71,827.86M466.09,827.86A4.6,4.6 0 0 1 469.22,833.87M458.15,836.20A7.8,7.8 0 0 1 463.28,824.67M466.52,824.67A7.8,7.8 0 0 1 471.65,836.20"/></g><g fill="none" stroke="#474747" stroke-width="2.65" stroke-linecap="round" stroke-linejoin="round"><path d="M428.6,869.6H450.6Q452.1,869.6 452.1,871.1V873.4Q452.1,875.6 454.3,875.6H486V914.6H428.6Z"/><path d="M452.1,871.2H470.8Q472.3,871.2 472.3,872.7V875.6"/><circle cx="457" cy="961.3" r="28.7"/><path d="M471.59,945.10A21.8,21.8 0 1 1 467.90,942.42"/><path d="M452.5,953.4L466.9,961.3L452.5,969.4Z"/><path d="M439.7,1042V1008.6L465.9,1002.4V1036M439.7,1018.6L465.9,1013"/><path d="M477.8,1051.5V1019.8Q486.5,1025 488.8,1033.5"/><ellipse cx="434.9" cy="1044.2" rx="5.2" ry="3.8" transform="rotate(-10 434.9 1044.2)"/><ellipse cx="460.7" cy="1036.7" rx="5.2" ry="3.8" transform="rotate(-10 460.7 1036.7)"/><ellipse cx="472.7" cy="1052.4" rx="5.2" ry="3.8" transform="rotate(-10 472.7 1052.4)"/></g><g font-family="Liberation Sans" font-weight="bold" fill="#474747"><text x="90.2" y="809.5" font-size="26.9" textLength="156.5" lengthAdjust="spacingAndGlyphs">USB Type-C</text><text x="195.4" y="988.4" font-size="25.4" textLength="153.5" lengthAdjust="spacingAndGlyphs">98W Power</text></g><g font-family="Liberation Sans" fill="#474747" stroke="#474747" stroke-width=".7"><text x="219.6" y="1019.6" font-size="25.8" textLength="105.5" lengthAdjust="spacingAndGlyphs">Delivery</text><text x="501.8" y="837.7" font-size="27" textLength="76.8" lengthAdjust="spacingAndGlyphs">Touch</text><text x="502.2" y="900.8" font-size="27" textLength="58.8" lengthAdjust="spacingAndGlyphs">Data</text><text x="505.2" y="968" font-size="26.6" textLength="74.2" lengthAdjust="spacingAndGlyphs">Video</text><text x="506" y="1037.1" font-size="27" textLength="76.5" lengthAdjust="spacingAndGlyphs">Audio</text></g></svg>
</body></html>
